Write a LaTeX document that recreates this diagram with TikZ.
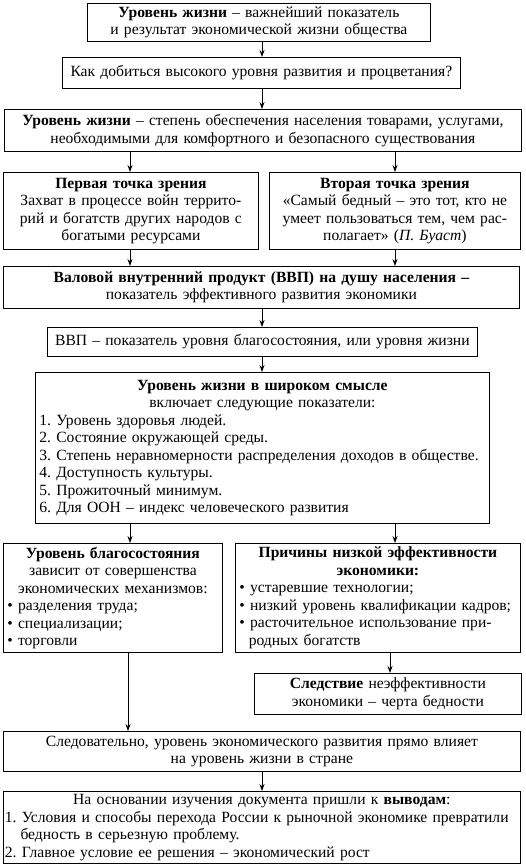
\documentclass[tikz,border=0pt]{standalone}
\usepackage{fontspec}
\setmainfont{Liberation Serif}
\usetikzlibrary{arrows.meta}
\newcommand\bx[8][4]{%
  \pgfmathsetmacro\bxw{#5-#3-2*#1}%
  \pgfmathsetmacro\bxh{#6-#4}%
  \node[box,inner xsep=#1pt,align=#7,anchor=north west,text width=\bxw pt,minimum height=\bxh pt] (#2) at (#3,#4) {#8};}
\begin{document}
\frenchspacing
\begin{tikzpicture}[x=1pt,y=-1pt,
  box/.style={draw,line width=0.8pt,inner ysep=1pt,font=\fontsize{15.6}{17.5}\selectfont\frenchspacing},
  arr/.style={line width=0.8pt,-{Stealth[length=7pt,width=5pt]}}]
\useasboundingbox[fill=white] (0,0) rectangle (525,864);
\coordinate (cL) at (130,0);
\coordinate (cR) at (395,0);
\coordinate (cM) at (262,0);
\coordinate (cK) at (390,0);
\coordinate (cJ) at (128,0);
\bx{b1}{87}{3}{430}{41}{center}{\textbf{Уровень жизни} – важнейший показатель\\ и результат экономической жизни общества}
\bx[2]{b2}{62}{57}{460}{88}{center}{Как добиться высокого уровня развития и процветания?}
\bx[2]{b3}{4}{109}{521}{151}{center}{\textbf{Уровень жизни} – степень обеспечения населения товарами, услугами,\\ необходимыми для комфортного и безопасного существования}
\bx{b4l}{3}{172}{258}{249}{center}{\textbf{Первая точка зрения}\\ Захват в процессе войн террито-\\рий и богатств других народов с\\ богатыми ресурсами}
\bx{b4r}{269}{172}{520}{249}{center}{\textbf{Вторая точка зрения}\\ «Самый бедный – это тот, кто не\\ умеет пользоваться тем, чем рас-\\полагает» (\textit{П. Буаст})}
\bx{b5}{3}{266}{519}{308}{center}{\textbf{Валовой внутренний продукт (ВВП) на душу населения –}\\ показатель эффективного развития экономики}
\bx{b6}{47}{327}{477}{356}{center}{ВВП – показатель уровня благосостояния, или уровня жизни}
\bx{b7}{35}{372}{489}{523}{left}{{\centering\textbf{Уровень жизни в широком смысле}\\ включает следующие показатели:\par}
1. Уровень здоровья людей.\\
2. Состояние окружающей среды.\\
3. Степень неравномерности распределения доходов в обществе.\\
4. Доступность культуры.\\
5. Прожиточный минимум.\\
6. Для ООН – индекс человеческого развития}
\bx{b8l}{3}{543}{222}{652}{left}{{\centering\textbf{Уровень благосостояния}\\ зависит от совершенства\\ экономических механизмов:\par}
• разделения труда;\\
• специализации;\\
• торговли}
\bx{b8r}{235}{543}{520}{652}{left}{{\centering\textbf{Причины низкой эффективности\\ экономики:}\par}
• устаревшие технологии;\\
• низкий уровень квалификации кадров;\\
• расточительное использование при-\\
\hspace*{0.6em}родных богатств}
\bx{b9}{254}{673}{521}{714}{center}{\textbf{Следствие} неэффективности\\ экономики – черта бедности}
\bx{b10}{3}{731}{520}{771}{center}{Следовательно, уровень экономического развития прямо влияет\\ на уровень жизни в стране}
\bx[1.5]{b11}{3}{791}{520}{863}{left}{{\centering На основании изучения документа пришли к \textbf{выводам}:\par}
1. Условия и способы перехода России к рыночной экономике превратили\\
\hspace*{1em}бедность в серьезную проблему.\\
2. Главное условие ее решения – экономический рост}
\draw[arr] (b1.south -| cM) -- (b2.north -| cM);
\draw[arr] (b2.south -| cM) -- (b3.north -| cM);
\draw[arr] (b3.south -| cL) -- (b4l.north -| cL);
\draw[arr] (b3.south -| cR) -- (b4r.north -| cR);
\draw[arr] (b4l.south -| cL) -- (b5.north -| cL);
\draw[arr] (b4r.south -| cR) -- (b5.north -| cR);
\draw[arr] (b5.south -| cM) -- (b6.north -| cM);
\draw[arr] (b6.south -| cM) -- (b7.north -| cM);
\draw[arr] (b7.south -| cL) -- (b8l.north -| cL);
\draw[arr] (b7.south -| cR) -- (b8r.north -| cR);
\draw[arr] (b8r.south -| cK) -- (b9.north -| cK);
\draw[arr] (b8l.south -| cJ) -- (b10.north -| cJ);
\draw[arr] (b10.south -| cM) -- (b11.north -| cM);
\end{tikzpicture}
\end{document}
